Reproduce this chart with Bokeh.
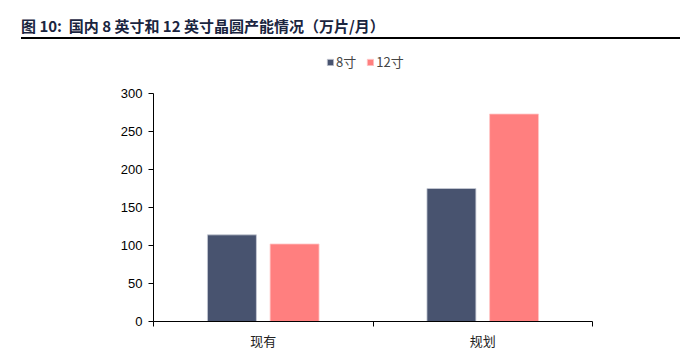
from bokeh.plotting import figure
from bokeh.models import ColumnDataSource, FixedTicker, Range1d, Legend, LegendItem, Div
from bokeh.layouts import column
from bokeh.transform import dodge
from bokeh.embed import file_html
from bokeh.resources import INLINE

title_text = "图 10:&nbsp; 国内 8 英寸和 12 英寸晶圆产能情况（万片/月）"
categories = ["现有", "规划"]
series_names = ["8寸", "12寸"]
values_8 = [114, 175]
values_12 = [102, 273]
y_ticks = [0, 50, 100, 150, 200, 250, 300]
colors = ["#48536f", "#ff7f7f"]

# layout (pixels)
FRAME_H = 276          # frame height incl. room for the legend above the axis
AXIS_H = 228           # height of the 0..300 axis part
TOP, BOTTOM = 1, 36
y_top = y_ticks[-1] * FRAME_H / AXIS_H

src = ColumnDataSource(dict(
    pos=[i + 0.5 for i in range(len(categories))],
    v8=values_8,
    v12=values_12,
))

p = figure(width=675, height=FRAME_H + TOP + BOTTOM, output_backend="svg", toolbar_location=None,
           x_range=Range1d(0, len(categories)), y_range=Range1d(0, y_top),
           min_border_left=153, min_border_right=83, min_border_top=TOP, min_border_bottom=BOTTOM)
p.outline_line_color = None
p.grid.visible = False

r1 = p.vbar(x=dodge("pos", -0.1427, range=p.x_range), top="v8", width=0.223, source=src,
            fill_color=colors[0], line_color="#c8ccd6", line_width=0.8)
r2 = p.vbar(x=dodge("pos", 0.1427, range=p.x_range), top="v12", width=0.223, source=src,
            fill_color=colors[1], line_color="#ffc8c8", line_width=0.8)

# y axis
p.yaxis.bounds = (y_ticks[0], y_ticks[-1])
p.yaxis.ticker = FixedTicker(ticks=y_ticks)
p.yaxis.major_tick_out = 5
p.yaxis.major_tick_in = 0
p.yaxis.minor_tick_out = 0
p.yaxis.minor_tick_in = 0
p.yaxis.axis_line_color = "#000000"
p.yaxis.major_tick_line_color = "#000000"
p.yaxis.major_label_text_font = "Liberation Sans"
p.yaxis.major_label_text_font_size = "13px"
p.yaxis.major_label_text_color = "#000000"
p.yaxis.major_label_standoff = 6

# x axis
p.xaxis.ticker = FixedTicker(ticks=[i + 0.5 for i in range(len(categories))],
                             minor_ticks=list(range(len(categories) + 1)))
p.xaxis.major_label_overrides = {i + 0.5: c for i, c in enumerate(categories)}
p.xaxis.major_tick_out = 0
p.xaxis.major_tick_in = 0
p.xaxis.minor_tick_out = 5
p.xaxis.minor_tick_in = 0
p.xaxis.axis_line_color = "#000000"
p.xaxis.minor_tick_line_color = "#000000"
p.xaxis.major_label_text_font = "Noto Sans CJK SC"
p.xaxis.major_label_text_font_size = "13px"
p.xaxis.major_label_text_color = "#222222"
p.xaxis.major_label_standoff = 4

legend = Legend(items=[LegendItem(label=series_names[0], renderers=[r1]),
                       LegendItem(label=series_names[1], renderers=[r2])],
                orientation="horizontal", location=(173, 250),
                border_line_color=None, background_fill_alpha=0,
                padding=0, margin=0, spacing=10,
                glyph_width=8, glyph_height=8, label_standoff=2,
                label_text_font="Noto Sans CJK SC", label_text_font_size="13px",
                label_height=14)
p.add_layout(legend, "center")

div = Div(text=(
    '<div style="box-sizing:border-box;margin-left:16px;width:659px;height:34px;padding-top:11px;'
    'border-bottom:2px solid #000;font-family:\'Noto Sans CJK SC\';font-weight:bold;'
    'font-size:15px;line-height:20px;color:#1a2540;white-space:nowrap;">'
    + title_text + '</div>'), width=675, height=34)

layout = column(div, p, spacing=0)
open("out.html", "w").write(file_html(layout, INLINE))
